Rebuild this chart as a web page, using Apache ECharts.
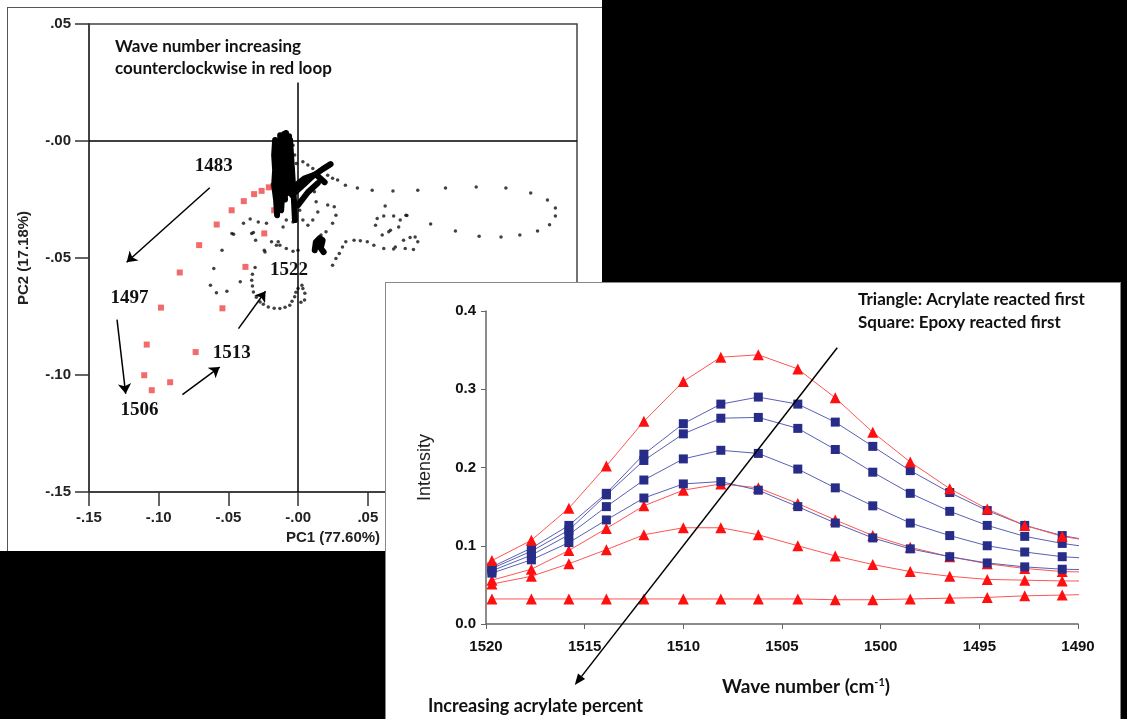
<!DOCTYPE html>
<html>
<head>
<meta charset="utf-8">
<script src="https://cdn.jsdelivr.net/npm/echarts@6/dist/echarts.min.js"></script>
<style>
  html, body { margin: 0; padding: 0; width: 1127px; height: 719px; background: #fff; overflow: hidden; }
  .blk { position: absolute; background: #000; }
  #pca { position: absolute; left: 7px; top: 7px; width: 595px; height: 544px; border-left: 1px solid #555; border-top: 1px solid #555; box-sizing: border-box; background: #fff; }
  #spec { position: absolute; left: 385px; top: 282px; width: 736px; height: 437px; border: 1px solid #888; border-bottom: none; box-sizing: border-box; background: #fff; }
</style>
</head>
<body>
<div class="blk" style="left:602px;top:0;width:525px;height:282px;"></div>
<div class="blk" style="left:0;top:551px;width:385px;height:168px;"></div>
<div class="blk" style="left:1120px;top:0;width:7px;height:719px;"></div>
<div id="pca"></div>
<div id="spec"></div>
<script>
// ---------- left panel: PCA scores ----------
const redLoop = [
  [-0.0179, -0.0193], [-0.0210, -0.0198], [-0.0262, -0.0213], [-0.0316, -0.0227],
  [-0.0390, -0.0257], [-0.0477, -0.0296], [-0.0584, -0.0357], [-0.0710, -0.0445],
  [-0.0849, -0.0562], [-0.0984, -0.0712], [-0.1086, -0.0870], [-0.1104, -0.1001],
  [-0.1050, -0.1065], [-0.0918, -0.1031], [-0.0735, -0.0902], [-0.0543, -0.0715],
  [-0.0378, -0.0538], [-0.0243, -0.0395], [-0.0108, -0.0236], [-0.0172, -0.0296]
];
const outerLoop = [
  [0.0212, -0.0146], [0.0247, -0.0159], [0.0283, -0.0167], [0.0339, -0.0189], [0.0425, -0.0201],
  [0.0531, -0.0210], [0.0680, -0.0214], [0.0858, -0.0210], [0.1057, -0.0201], [0.1277, -0.0197],
  [0.1490, -0.0201], [0.1668, -0.0222], [0.1788, -0.0252], [0.1845, -0.0286], [0.1845, -0.0320],
  [0.1803, -0.0358], [0.1717, -0.0385], [0.1590, -0.0402], [0.1455, -0.0410], [0.1298, -0.0407],
  [0.1128, -0.0385], [0.0950, -0.0355], [0.0773, -0.0317], [0.0624, -0.0278]
];
const nearDots = [
  [0.0117, -0.0217], [0.0129, -0.0260], [0.0141, -0.0303], [0.0105, -0.0338], [0.0070, -0.0360],
  [0.0034, -0.0338], [0.0011, -0.0296], [0.0212, -0.0274], [0.0259, -0.0281], [0.0271, -0.0317],
  [0.0247, -0.0352], [0.0200, -0.0388], [0.0164, -0.0402],
  [0.0247, -0.0531], [0.0271, -0.0502], [0.0295, -0.0481], [0.0318, -0.0453], [0.0342, -0.0431],
  [0.0401, -0.0424], [0.0446, -0.0426], [0.0496, -0.0431], [0.0543, -0.0445], [0.0614, -0.0459], [0.0685, -0.0462],
  [0.0555, -0.0360], [0.0567, -0.0331], [0.0614, -0.0320], [0.0685, -0.0320], [0.0732, -0.0338],
  [0.0721, -0.0367], [0.0662, -0.0381], [0.0603, -0.0402],
  [0.0697, -0.0453], [0.0768, -0.0459], [0.0827, -0.0464], [0.0858, -0.0431], [0.0839, -0.0410],
  [0.0803, -0.0412], [0.0756, -0.0424], [0.0780, -0.0318], [0.0650, -0.0388],
  [-0.0037, -0.0018], [-0.0025, -0.0060], [-0.0013, -0.0096], [0.0034, -0.0089], [0.0070, -0.0103],
  [0.0105, -0.0117], [0.0153, -0.0124]
];
const leftDots = [
  [-0.0605, -0.0545], [-0.0629, -0.0616], [-0.0586, -0.0649], [-0.0511, -0.0642], [-0.0415, -0.0602],
  [-0.0546, -0.0467], [-0.0463, -0.0398], [-0.0392, -0.0352], [-0.0333, -0.0395], [-0.0305, -0.0424],
  [-0.0286, -0.0346], [-0.0227, -0.0352], [-0.0191, -0.0431], [-0.0238, -0.0474], [-0.0156, -0.0445],
  [-0.0475, -0.0395], [-0.0344, -0.0333], [-0.0321, -0.0391], [-0.0243, -0.0467], [-0.0143, -0.0431],
  [-0.0131, -0.0445], [-0.0085, -0.0459], [-0.0037, -0.0471], [-0.0001, -0.0467],
  [-0.0108, -0.0367], [-0.0085, -0.0338], [-0.0037, -0.0346]
];
const loop1522 = [
  [-0.0309, -0.0541], [-0.0328, -0.0569], [-0.0333, -0.0595], [-0.0328, -0.0620], [-0.0321, -0.0645],
  [-0.0300, -0.0668], [-0.0273, -0.0688], [-0.0250, -0.0698], [-0.0214, -0.0709], [-0.0172, -0.0715],
  [-0.0131, -0.0716], [-0.0094, -0.0710], [-0.0060, -0.0702], [-0.0044, -0.0685], [-0.0025, -0.0666],
  [-0.0016, -0.0646], [-0.0001, -0.0630],
  [0.0034, -0.0630], [0.0048, -0.0651], [0.0046, -0.0680], [0.0020, -0.0689], [0.0027, -0.0616]
];
// dense trace near the origin, drawn as thick strokes
const blobStrands = [
  [[-0.0165, 0.0004], [-0.0172, -0.0060], [-0.0165, -0.0124], [-0.0172, -0.0189], [-0.0158, -0.0253], [-0.0151, -0.0317]],
  [[-0.0143, -0.0020], [-0.0150, -0.0090], [-0.0143, -0.0160], [-0.0143, -0.0230], [-0.0136, -0.0290]],
  [[-0.0129, 0.0025], [-0.0122, -0.0039], [-0.0115, -0.0103], [-0.0122, -0.0167], [-0.0115, -0.0231], [-0.0122, -0.0296]],
  [[-0.0101, 0.0030], [-0.0101, -0.0050], [-0.0094, -0.0120], [-0.0101, -0.0190], [-0.0094, -0.0250]],
  [[-0.0087, 0.0034], [-0.0080, -0.0030], [-0.0087, -0.0095], [-0.0072, -0.0159], [-0.0080, -0.0223]],
  [[-0.0065, 0.0020], [-0.0065, -0.0070], [-0.0058, -0.0150], [-0.0051, -0.0220]],
  [[-0.0058, 0.0004], [-0.0051, -0.0060], [-0.0044, -0.0124], [-0.0037, -0.0189], [-0.0030, -0.0253], [-0.0023, -0.0338]],
  [[-0.0044, -0.0231], [0.0034, -0.0189], [0.0105, -0.0150], [0.0176, -0.0120], [0.0233, -0.0099]],
  [[-0.0023, -0.0193], [0.0048, -0.0159], [0.0126, -0.0142], [0.0190, -0.0176]],
  [[-0.0001, -0.0274], [0.0070, -0.0219], [0.0141, -0.0180]],
  [[0.0119, -0.0467], [0.0127, -0.0432], [0.0155, -0.0415], [0.0176, -0.0424], [0.0162, -0.0458], [0.0183, -0.0475]]
];

const loopLabels = [
  {name: '1483', coord: [-0.0605, -0.0107]},
  {name: '1497', coord: [-0.1209, -0.0672]},
  {name: '1506', coord: [-0.1138, -0.1151]},
  {name: '1513', coord: [-0.0477, -0.0907]},
  {name: '1522', coord: [-0.0065, -0.0552]}
];
const loopArrows = [
  [[-0.0634, -0.0200], [-0.1230, -0.0518]],
  [[-0.1299, -0.0763], [-0.1237, -0.1080]],
  [[-0.0830, -0.1084], [-0.0563, -0.0966]],
  [[-0.0428, -0.0802], [-0.0234, -0.0642]]
];

// ---------- right panel: spectra ----------
const waveNumbers = [1519.7, 1517.7, 1515.8, 1513.9, 1512.0, 1510.0, 1508.1, 1506.2, 1504.2, 1502.3, 1500.4, 1498.5, 1496.5, 1494.6, 1492.7, 1490.8, 1488.8];
const tri1 = [0.081, 0.107, 0.148, 0.202, 0.259, 0.310, 0.341, 0.344, 0.326, 0.289, 0.245, 0.207, 0.173, 0.147, 0.126, 0.112, 0.104];
const sq1 = [0.073, 0.097, 0.126, 0.167, 0.217, 0.256, 0.281, 0.290, 0.281, 0.258, 0.227, 0.196, 0.168, 0.145, 0.126, 0.113, 0.104];
const sq2 = [0.071, 0.093, 0.120, 0.165, 0.209, 0.243, 0.263, 0.264, 0.250, 0.223, 0.194, 0.167, 0.144, 0.126, 0.112, 0.103, 0.096];
const sq3 = [0.068, 0.088, 0.114, 0.150, 0.184, 0.211, 0.222, 0.218, 0.198, 0.174, 0.151, 0.129, 0.113, 0.100, 0.092, 0.086, 0.083];
const sq4 = [0.065, 0.082, 0.104, 0.133, 0.161, 0.179, 0.182, 0.171, 0.150, 0.129, 0.110, 0.096, 0.086, 0.078, 0.073, 0.070, 0.069];
const tri2 = [0.056, 0.070, 0.094, 0.122, 0.151, 0.171, 0.179, 0.174, 0.154, 0.133, 0.113, 0.098, 0.086, 0.077, 0.071, 0.067, 0.066];
const tri3 = [0.051, 0.061, 0.077, 0.095, 0.114, 0.123, 0.123, 0.114, 0.100, 0.087, 0.076, 0.067, 0.061, 0.057, 0.056, 0.055, 0.055];
const tri4 = [0.032, 0.032, 0.032, 0.032, 0.032, 0.032, 0.032, 0.032, 0.032, 0.031, 0.031, 0.032, 0.033, 0.034, 0.036, 0.037, 0.038];
const trendArrow = [[1502.2, 0.353], [1515.5, -0.078]];

const pcFmt = (v) => {
  if (Math.abs(v) < 1e-9) return '-.00';
  return (v < 0 ? '-' : '') + Math.abs(v).toFixed(2).replace(/^0/, '');
};
const pcFont = {fontFamily: 'Liberation Sans', fontWeight: 'bold', fontSize: 15, color: '#222'};

const pcChart = echarts.init(document.getElementById('pca'));
const strandSeries = blobStrands.map((s) => ({
  type: 'line', data: s, symbol: 'none', silent: true,
  lineStyle: {color: '#000', width: 6, cap: 'round', join: 'round'}, z: 4
}));
pcChart.setOption({
  animation: false,
  grid: {left: 76, top: 16, width: 493, height: 468, show: true, borderColor: '#444', borderWidth: 1.5},
  xAxis: {
    type: 'value', min: -0.15, max: 0.2, interval: 0.05,
    name: 'PC1 (77.60%)', nameLocation: 'middle', nameGap: 34, nameTextStyle: pcFont,
    axisLine: {onZero: false, lineStyle: {color: '#333', width: 1.5}},
    axisTick: {length: 14, lineStyle: {color: '#333', width: 1.5}},
    axisLabel: Object.assign({formatter: pcFmt, margin: 18}, pcFont),
    splitLine: {show: false}
  },
  yAxis: {
    type: 'value', min: -0.15, max: 0.05, interval: 0.05,
    name: 'PC2 (17.18%)', nameLocation: 'middle', nameGap: 58, nameTextStyle: pcFont,
    axisLine: {onZero: false, lineStyle: {color: '#333', width: 1.5}},
    axisTick: {length: 14, lineStyle: {color: '#333', width: 1.5}},
    axisLabel: Object.assign({formatter: pcFmt, margin: 18}, pcFont),
    splitLine: {show: false}
  },
  graphic: [{
    type: 'text', left: 107, top: 28,
    style: {
      text: 'Wave number increasing\ncounterclockwise in red loop',
      fontFamily: 'Lato', fontWeight: 'bold', fontSize: 17, lineHeight: 22, fill: '#111'
    }
  }],
  series: [
    {
      type: 'scatter', data: outerLoop.concat(nearDots, leftDots, loop1522), symbol: 'circle', symbolSize: 3.5,
      itemStyle: {color: '#111'}, z: 3,
      markLine: {
        silent: true, symbol: 'none', animation: false,
        lineStyle: {color: '#000', width: 1.5, type: 'solid'}, label: {show: false},
        data: [
          [{coord: [-0.15, 0]}, {coord: [0.2, 0]}],
          [{coord: [0, 0.025]}, {coord: [0, -0.15]}]
        ]
      }
    }
  ].concat(strandSeries, [
    {
      type: 'scatter', data: redLoop, symbol: 'rect', symbolSize: 6,
      itemStyle: {color: '#ee4646'}, z: 3,
      markLine: {
        silent: true, symbol: ['none', 'arrow'], symbolSize: 10, animation: false,
        lineStyle: {color: '#000', width: 1.5, type: 'solid'}, label: {show: false},
        data: loopArrows.map(a => [{coord: a[0]}, {coord: a[1]}])
      },
      markPoint: {
        silent: true, symbol: 'rect', symbolSize: 1, itemStyle: {color: 'rgba(0,0,0,0)'},
        label: {
          show: true, position: 'inside', formatter: '{b}',
          fontFamily: 'Liberation Serif', fontWeight: 'bold', fontSize: 19, color: '#111'
        },
        data: loopLabels
      }
    }
  ])
});

// ---------- right chart ----------
const pair = (ys) => waveNumbers.map((w, i) => [w, ys[i]]);
const triSeries = (ys) => ({
  type: 'line', data: pair(ys), symbol: 'triangle', symbolSize: 11,
  itemStyle: {color: '#ff1010'}, lineStyle: {color: '#f55', width: 1}, z: 3
});
const sqSeries = (ys) => ({
  type: 'line', data: pair(ys), symbol: 'rect', symbolSize: 9,
  itemStyle: {color: '#262c87'}, lineStyle: {color: '#5a60b2', width: 1}, z: 3
});

const specChart = echarts.init(document.getElementById('spec'));
specChart.setOption({
  animation: false,
  grid: {left: 100, top: 28, width: 592, height: 313},
  xAxis: {
    type: 'value', min: 1490, max: 1520, interval: 5, inverse: true,
    axisLine: {onZero: false, lineStyle: {color: '#666', width: 1.5}},
    axisTick: {length: 5, lineStyle: {color: '#666'}},
    axisLabel: {formatter: (v) => String(v), margin: 15, fontFamily: 'Liberation Sans', fontWeight: 'bold', fontSize: 15, color: '#111'},
    splitLine: {show: false}
  },
  yAxis: {
    type: 'value', min: 0, max: 0.4, interval: 0.1,
    name: 'Intensity', nameLocation: 'middle', nameGap: 52,
    nameTextStyle: {fontFamily: 'Liberation Sans', fontSize: 18, color: '#222'},
    axisLine: {show: true, onZero: false, lineStyle: {color: '#666', width: 1.5}},
    axisTick: {show: true, length: 5, lineStyle: {color: '#666'}},
    axisLabel: {formatter: (v) => v.toFixed(1), margin: 10, fontFamily: 'Liberation Sans', fontWeight: 'bold', fontSize: 15, color: '#111'},
    splitLine: {show: false}
  },
  series: [
    triSeries(tri4), triSeries(tri3), triSeries(tri2),
    sqSeries(sq4), sqSeries(sq3), sqSeries(sq2), sqSeries(sq1),
    triSeries(tri1)
  ]
});

// trend arrow: endpoints given in data space, placed through the chart's own scales
const p0 = specChart.convertToPixel({gridIndex: 0}, trendArrow[0]);
const p1 = specChart.convertToPixel({gridIndex: 0}, trendArrow[1]);
const dx = p1[0] - p0[0], dy = p1[1] - p0[1];
const len = Math.sqrt(dx * dx + dy * dy);
const ux = dx / len, uy = dy / len;
const headLen = 11, headHalf = 4.5;
const bx = p1[0] - ux * headLen, by = p1[1] - uy * headLen;

specChart.setOption({
  graphic: [
    {
      type: 'text', left: 472, top: 5,
      style: {
        text: 'Triangle: Acrylate reacted first\nSquare: Epoxy reacted first',
        fontFamily: 'Lato', fontWeight: 'bold', fontSize: 17, lineHeight: 23, fill: '#111'
      }
    },
    {
      type: 'text', x: 420, y: 404,
      style: {
        text: 'Wave number (cm{sup|-1})', align: 'center', verticalAlign: 'middle',
        fontFamily: 'Lato', fontWeight: 'bold', fontSize: 19, fill: '#111',
        rich: {sup: {fontFamily: 'Lato', fontWeight: 'bold', fontSize: 11, padding: [0, 0, 9, 0], fill: '#111'}}
      }
    },
    {
      type: 'text', x: 42, y: 423,
      style: {
        text: 'Increasing acrylate percent', verticalAlign: 'middle',
        fontFamily: 'Lato', fontWeight: 'bold', fontSize: 18, fill: '#111'
      }
    },
    {
      type: 'line', z: 10, silent: true,
      shape: {x1: p0[0], y1: p0[1], x2: bx, y2: by},
      style: {stroke: '#000', lineWidth: 1.5}
    },
    {
      type: 'polygon', z: 10, silent: true,
      shape: {points: [[p1[0], p1[1]], [bx - uy * headHalf, by + ux * headHalf], [bx + uy * headHalf, by - ux * headHalf]]},
      style: {fill: '#000'}
    }
  ]
});
</script>
</body>
</html>
